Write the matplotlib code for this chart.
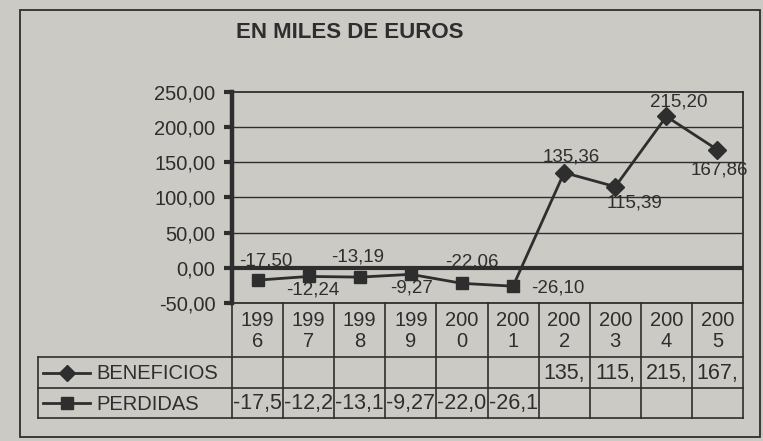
import numpy as np
import matplotlib.pyplot as plt
from matplotlib.patches import Rectangle
from matplotlib.ticker import FuncFormatter

plt.rcParams['font.family'] = ['Liberation Sans', 'DejaVu Sans']

# data
years = ['1996', '1997', '1998', '1999', '2000', '2001', '2002', '2003', '2004', '2005']
beneficios = [np.nan, np.nan, np.nan, np.nan, np.nan, np.nan, 135.36, 115.39, 215.20, 167.86]
perdidas = [-17.50, -12.24, -13.19, -9.27, -22.06, -26.10, np.nan, np.nan, np.nan, np.nan]

# label placement (pixel offsets from the marker), one per year
label_offsets = [(8, 19), (4, -14), (-2, 20), (1, -14), (10, 21), (18, -2),
                 (7, 16), (19, -16), (12, 14), (2, -20)]

W, H = 763, 441
BG = '#cbcac5'
INK = '#2e2e2e'

# rough Arial glyph widths (em) to cut table numbers like the narrow cells do
CHAR_W = {'-': 0.333, ',': 0.278}


def fmt(v):
    return f'{v:.2f}'.replace('.', ',')


def cut(s, limit=2.4):
    out, w = '', 0
    for c in s:
        w += CHAR_W.get(c, 0.556)
        if w > limit:
            break
        out += c
    return out


fig = plt.figure(figsize=(W / 100, H / 100), dpi=100)
fig.patch.set_facecolor(BG)

# overlay in pixel coords for frame, title and the data table
ov = fig.add_axes([0, 0, 1, 1])
ov.set_xlim(0, W)
ov.set_ylim(H, 0)
ov.axis('off')
ov.set_facecolor('none')

ov.add_patch(Rectangle((20, 10), 740, 427, fill=False, lw=1.3, ec=INK))
ov.text(350, 32, 'EN MILES DE EUROS', fontsize=16, fontweight='bold',
        color=INK, ha='center', va='center')

# plot area
left, right, top, bottom = 232, 743, 92, 303
ax = fig.add_axes([left / W, 1 - bottom / H, (right - left) / W, (bottom - top) / H])
ax.set_facecolor('none')
n = len(years)
x = np.arange(n) + 0.5
ax.set_xlim(0, n)
ax.set_ylim(-50, 250)
ax.set_yticks(np.arange(-50, 251, 50))
ax.yaxis.set_major_formatter(FuncFormatter(lambda v, p: fmt(v)))
ax.tick_params(axis='y', labelsize=14.5, colors=INK, length=6, width=3, pad=6)
ax.set_xticks([])
for t in np.arange(50, 250, 50):
    ax.axhline(t, color=INK, lw=1.0, zorder=1)
ax.axhline(0, color=INK, lw=3, zorder=2)
ax.spines['left'].set_linewidth(3.2)
for s in ['top', 'right', 'bottom']:
    ax.spines[s].set_linewidth(1.3)
for s in ax.spines.values():
    s.set_color(INK)

ben = np.array(beneficios)
per = np.array(perdidas)
ax.plot(x, ben, color=INK, lw=2, marker='D', ms=9, zorder=4)
ax.plot(x, per, color=INK, lw=2, marker='s', ms=9, zorder=4)
# the original line runs on from the last loss to the first profit
i0 = np.where(~np.isnan(per))[0][-1]
i1 = np.where(~np.isnan(ben))[0][0]
ax.plot([x[i0], x[i1]], [per[i0], ben[i1]], color=INK, lw=2, zorder=3)

vals = np.where(np.isnan(ben), per, ben)
for xi, v, (dx, dy) in zip(x, vals, label_offsets):
    ha = 'left' if dx > 15 and abs(dy) < 5 else 'center'
    ax.annotate(fmt(v), (xi, v), xytext=(dx * 0.72, dy * 0.72), textcoords='offset points',
                ha=ha, va='center', fontsize=13.5, color=INK, zorder=5)

# data table under the axis
cw = (right - left) / n
row_year, row_ben, row_per, tab_left = 357, 388, 418, 38
for i in range(n + 1):
    ov.plot([left + i * cw] * 2, [bottom, row_per], color=INK, lw=1.2)
for yy in [row_year, row_ben, row_per]:
    ov.plot([tab_left, right], [yy, yy], color=INK, lw=1.2)
ov.plot([tab_left, tab_left], [row_year, row_per], color=INK, lw=1.2)

for i, yr in enumerate(years):
    cx = left + (i + 0.5) * cw
    ov.text(cx, (bottom + row_year) / 2 + 1, yr[:3] + '\n' + yr[3:], fontsize=14.5,
            color=INK, ha='center', va='center', linespacing=1.1)
    if not np.isnan(ben[i]):
        ov.text(cx, (row_year + row_ben) / 2 + 1, cut(fmt(ben[i])), fontsize=15.5,
                color=INK, ha='center', va='center')
    if not np.isnan(per[i]):
        ov.text(cx, (row_ben + row_per) / 2 + 1, cut(fmt(per[i])), fontsize=15.5,
                color=INK, ha='center', va='center')

for yc, name, mk in [((row_year + row_ben) / 2, 'BENEFICIOS', 'D'),
                     ((row_ben + row_per) / 2, 'PERDIDAS', 's')]:
    ov.plot([43, 90], [yc, yc], color=INK, lw=2)
    ov.plot([67], [yc], color=INK, marker=mk, ms=9 if mk == 's' else 8)
    ov.text(96, yc + 1, name, fontsize=14.5, color=INK, ha='left', va='center')

fig.savefig('out.png', dpi=100, facecolor=BG)
